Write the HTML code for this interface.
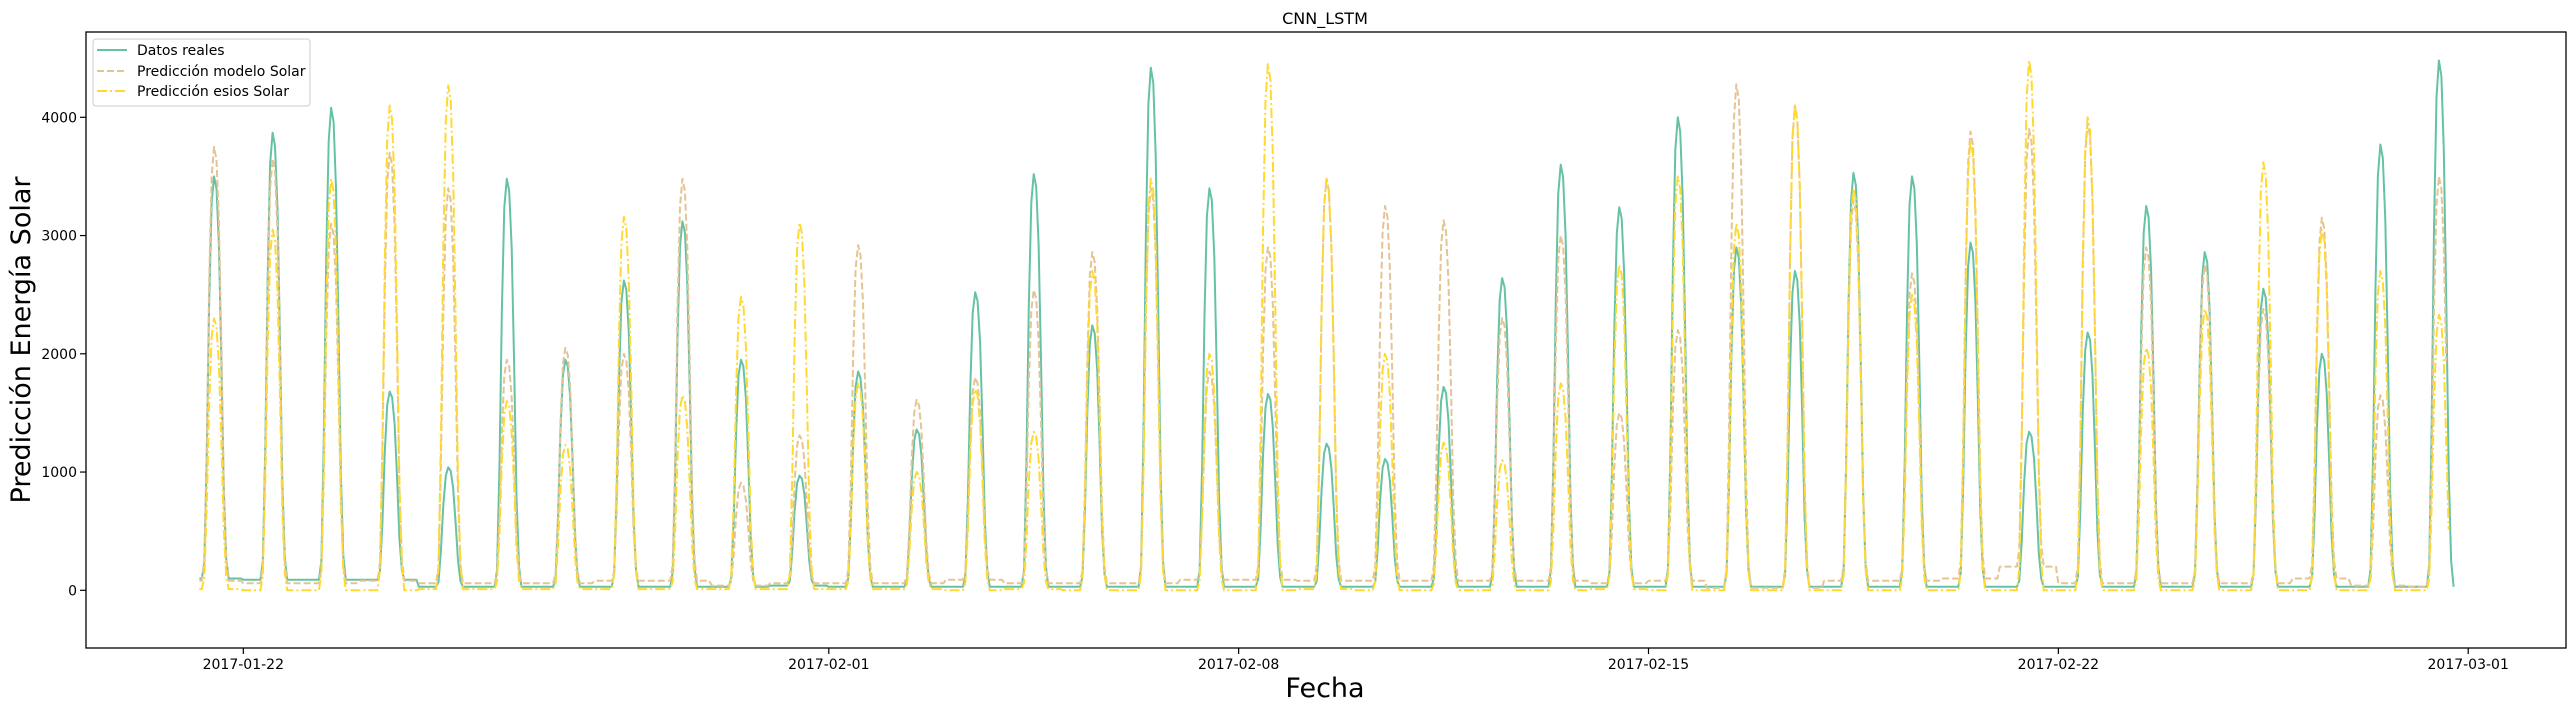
<!DOCTYPE html>
<html><head><meta charset="utf-8">
<style>
html,body{margin:0;padding:0;background:#fff;}
svg{display:block;font-family:"DejaVu Sans","Liberation Sans",sans-serif;}
</style></head>
<body>
<svg id="chart" width="2575" height="711" viewBox="0 0 2575 711">
  <rect x="0" y="0" width="2575" height="711" fill="#fff"/>
  <text x="1325" y="24" text-anchor="middle" font-size="16">CNN_LSTM</text>
  <g id="ticks"></g>
  <clipPath id="clip"><rect x="86" y="32" width="2480" height="616"/></clipPath>
  <g id="series" clip-path="url(#clip)"></g>
  <rect x="86" y="32" width="2480" height="616" fill="none" stroke="#000" stroke-width="1.3"/>
  <text transform="translate(30,340) rotate(-90)" text-anchor="middle" font-size="27">Predicción Energía Solar</text>
  <text x="1325" y="697" text-anchor="middle" font-size="27">Fecha</text>
  <g>
    <rect x="93" y="39" width="217" height="67" rx="3" fill="#fff" fill-opacity="0.85" stroke="#ccc" stroke-width="1"/>
    <g>
      <line x1="97" y1="50" x2="127" y2="50" stroke="#66c2a5" stroke-width="2"/>
      <text x="137" y="55" font-size="14">Datos reales</text>
    </g>
    <g>
      <line x1="97" y1="71" x2="127" y2="71" stroke="#e5c494" stroke-width="2" stroke-dasharray="7,3"/>
      <text x="137" y="76" font-size="14">Predicción modelo Solar</text>
    </g>
    <g>
      <line x1="97" y1="91" x2="127" y2="91" stroke="#ffd92f" stroke-width="2" stroke-dasharray="10,3,2,3"/>
      <text x="137" y="96" font-size="14">Predicción esios Solar</text>
    </g>
  </g>
</svg>
<script>
// Daily data, first day = 2017-01-21
const days = ["01-21","01-22","01-23","01-24","01-25","01-26","01-27","01-28","01-29","01-30","01-31",
 "02-01","02-02","02-03","02-04","02-05","02-06","02-07","02-08","02-09","02-10","02-11","02-12","02-13","02-14",
 "02-15","02-16","02-17","02-18","02-19","02-20","02-21","02-22","02-23","02-24","02-25","02-26","02-27","02-28"];
const realPeak = [3500,3870,4080,1680,1040,3480,1950,2620,3120,1950,970,
 1850,1360,2520,3520,2240,4420,3400,1660,1240,1110,1720,2640,3600,3240,
 4000,2900,2700,3530,3500,2940,1340,2180,3250,2860,2550,2000,3770,4480];
const modeloPeak = [3750,3650,3100,3700,3400,1950,2050,2000,3480,910,1310,
 2920,1610,1800,2540,2860,3400,1850,2900,3480,3250,3130,2300,3000,1500,
 2200,4280,4100,3300,2680,3880,3900,3950,2900,2750,2380,3150,1650,3500];
const esiosPeak = [2300,3050,3480,4100,4270,1600,1230,3160,1650,2480,3110,
 1750,1000,1700,1340,2700,3480,2000,4450,3480,2000,1250,1100,1750,2750,
 3500,3100,4100,3400,2500,3800,4480,4000,2050,2380,3620,3050,2700,2330];
const realNight = [100,90,90,90,30,30,30,30,30,30,40,
 30,30,30,30,30,30,30,30,30,30,30,30,30,30,
 30,30,30,30,30,30,30,30,30,30,30,30,30,30];
const modeloNight = [80,60,60,80,60,60,60,80,80,40,60,
 60,60,90,60,60,60,90,90,80,80,80,80,80,60,
 80,20,20,80,80,100,200,60,60,60,60,100,40,30];
const esiosNight = [10,0,0,0,10,10,10,10,10,10,10,
 10,10,0,10,0,0,0,0,10,0,0,0,0,10,
 0,0,0,0,0,0,0,0,0,0,0,0,0,0];
const yTicks = [0,1000,2000,3000,4000];
const xTickLabels = ["2017-01-22","2017-02-01","2017-02-08","2017-02-15","2017-02-22","2017-03-01"];
const xTickDays = [1,11,18,25,32,39]; // days after 2017-01-21
// typical normalized hourly shape of a solar day
const profile = [0,0,0,0,0,0,0,0,0.04,0.3,0.68,0.93,1,0.97,0.83,0.55,0.22,0.05,0,0,0,0,0,0];

const X = d => 243.3 + 58.55*(d-1);   // d = days after 2017-01-21 00:00
const Y = v => 590.3 - v*0.11825;
const NS = "http://www.w3.org/2000/svg";
const tg = document.getElementById('ticks');
yTicks.forEach(v=>{
  const l=document.createElementNS(NS,'line');
  l.setAttribute('x1',80);l.setAttribute('x2',86);l.setAttribute('y1',Y(v));l.setAttribute('y2',Y(v));
  l.setAttribute('stroke','#000');l.setAttribute('stroke-width','1.2');
  
  
  tg.appendChild(l);
  const t=document.createElementNS(NS,'text');
  t.setAttribute('x',77);t.setAttribute('y',Y(v)+5);t.setAttribute('text-anchor','end');t.setAttribute('font-size','14');
  t.textContent=v;
  
  
  tg.appendChild(t);
});
xTickDays.forEach((d,i)=>{
  const l=document.createElementNS(NS,'line');
  l.setAttribute('x1',X(d));l.setAttribute('x2',X(d));l.setAttribute('y1',648);l.setAttribute('y2',654);
  l.setAttribute('stroke','#000');l.setAttribute('stroke-width','1.2');
  
  
  tg.appendChild(l);
  const t=document.createElementNS(NS,'text');
  t.setAttribute('x',X(d));t.setAttribute('y',669);t.setAttribute('text-anchor','middle');t.setAttribute('font-size','14');
  t.textContent=xTickLabels[i];
  
  
  tg.appendChild(t);
});
function build(peaks,nights,endHour){
  const pts=[];
  for(let d=0; d<days.length; d++){
    for(let h=0; h<24; h++){
      if(d===0 && h<6) continue;
      if(d===days.length-1 && h>endHour) break;
      const nb = nights[d];
      const v = nb + (peaks[d]-nb)*profile[h];
      pts.push(X(d+h/24).toFixed(1)+','+Y(v).toFixed(1));
    }
  }
  return 'M'+pts.join('L');
}
const sg=document.getElementById('series');
function addLine(d,color,dash,name){
  const p=document.createElementNS(NS,'path');
  p.setAttribute('d',d);p.setAttribute('fill','none');p.setAttribute('stroke',color);
  p.setAttribute('stroke-width','2');p.setAttribute('stroke-linejoin','round');
  if(dash)p.setAttribute('stroke-dasharray',dash);
  
  
  sg.appendChild(p);
}
addLine(build(realPeak,realNight,18),'#66c2a5',null,'line-datos-reales');
addLine(build(modeloPeak,modeloNight,15),'#e5c494','7,3','line-prediccion-modelo');
addLine(build(esiosPeak,esiosNight,16),'#ffd92f','10,3,2,3','line-prediccion-esios');
</script>
</body></html>
